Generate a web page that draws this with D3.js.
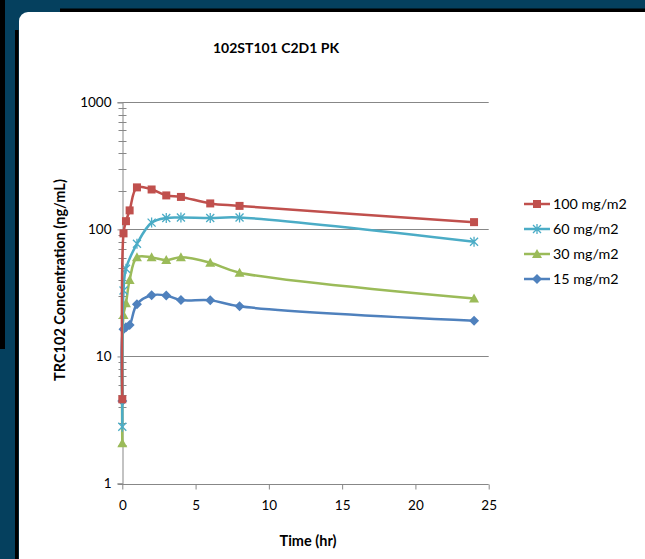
<!DOCTYPE html>
<html>
<head>
<meta charset="utf-8">
<script src="https://cdn.jsdelivr.net/npm/d3@7"></script>
<style>
  html, body { margin: 0; padding: 0; background: #05405e; }
  svg { display: block; font-family: Lato, "Open Sans", sans-serif; }
</style>
</head>
<body>
<div id="chart"></div>
<script>
// sample times (hr)
var times = [0, 0.083, 0.25, 0.5, 1, 2, 3, 4, 6, 8, 24];
var times60 = [0, 0.083, 0.25, 1, 2, 3, 4, 6, 8, 24];

// concentrations (ng/mL)
var dose100 = [4.6, 93, 116, 141, 214, 206, 185, 180, 160, 153, 114];
var dose60 = [2.8, 33, 49, 77, 113, 123, 124, 123, 124, 80];
var dose30 = [2.07, 21.2, 26.2, 39.9, 60.2, 60.2, 57.3, 60.2, 54.6, 45.6, 28.6];
var dose15 = [4.46, 16.4, 17.0, 17.7, 25.8, 30.3, 30.2, 27.8, 27.7, 24.8, 19.1];

var seriesNames = ["100 mg/m2", "60 mg/m2", "30 mg/m2", "15 mg/m2"];
var xTicks = [0, 5, 10, 15, 20, 25];
var yTicks = [1, 10, 100, 1000];

var series = [
  { name: seriesNames[0], t: times, v: dose100, color: "#c0504d", marker: "square" },
  { name: seriesNames[1], t: times60, v: dose60, color: "#4bacc6", marker: "star" },
  { name: seriesNames[2], t: times, v: dose30, color: "#9bbb59", marker: "triangle" },
  { name: seriesNames[3], t: times, v: dose15, color: "#4f81bd", marker: "diamond" }
];

var W = 645, H = 559;
var svg = d3.select("#chart").append("svg")
  .attr("width", W)
  .attr("height", H);

// frame: dark slide background, shadow lines, white rounded card
svg.append("rect").attr("x", 0).attr("y", 0).attr("width", 5).attr("height", 349).attr("fill", "#000");
svg.append("rect").attr("x", 15).attr("y", 30).attr("width", 3.5).attr("height", H).attr("fill", "#000");
svg.append("rect").attr("x", 60).attr("y", 8.5).attr("width", W).attr("height", 3.5).attr("fill", "#000");
svg.append("rect")
  .attr("x", 19).attr("y", 12)
  .attr("width", W + 40).attr("height", H + 40)
  .attr("rx", 9)
  .attr("fill", "#fff");

var x_scale = d3.scaleLinear().domain([0, 25]).range([122.3, 488.7]);
var y_scale = d3.scaleLog().domain([1, 1000]).range([483.5, 102.3]);

var grid = "#878787";

// horizontal gridlines
svg.append("g").selectAll("line")
  .data(yTicks.slice(1))
  .enter().append("line")
  .attr("x1", x_scale(0)).attr("x2", x_scale(25))
  .attr("y1", function(d) { return Math.round(y_scale(d)) + 0.5; })
  .attr("y2", function(d) { return Math.round(y_scale(d)) + 0.5; })
  .attr("stroke", grid).attr("stroke-width", 1);

// y axis
var y_axis = d3.axisLeft(y_scale)
  .tickValues(yTicks)
  .tickFormat(d3.format("d"))
  .tickSize(5)
  .tickPadding(6);
var gy = svg.append("g")
  .attr("transform", "translate(" + (Math.round(x_scale(0)) + 0.5) + ",0)")
  .call(y_axis);
gy.select(".domain").attr("stroke", grid);
gy.selectAll(".tick line").attr("stroke", grid);
gy.selectAll(".tick text").attr("font-size", 13.5).attr("fill", "#000").attr("font-family", "Lato");

// minor ticks crossing the axis
var minors = [];
[1, 10, 100].forEach(function(b) {
  for (var k = 2; k <= 9; k++) minors.push(b * k);
});
svg.append("g").selectAll("line")
  .data(minors)
  .enter().append("line")
  .attr("x1", Math.round(x_scale(0)) - 3.5).attr("x2", Math.round(x_scale(0)) + 4.5)
  .attr("y1", function(d) { return Math.round(y_scale(d)) + 0.5; })
  .attr("y2", function(d) { return Math.round(y_scale(d)) + 0.5; })
  .attr("stroke", grid).attr("stroke-width", 1);

// x axis
var x_axis = d3.axisBottom(x_scale)
  .tickValues(xTicks)
  .tickSize(5)
  .tickPadding(11);
var gx = svg.append("g")
  .attr("transform", "translate(0," + (Math.round(y_scale(1)) + 0.5) + ")")
  .call(x_axis);
gx.select(".domain").attr("stroke", grid).attr("d", "M" + (x_scale(0) - 4) + ",0H" + x_scale(25));
gx.selectAll(".tick line").attr("stroke", grid);
gx.selectAll(".tick text").attr("font-size", 13.5).attr("fill", "#000").attr("font-family", "Lato");

// title and axis titles
svg.append("text")
  .attr("x", 276).attr("y", 53)
  .attr("text-anchor", "middle")
  .attr("font-weight", "bold").attr("font-size", 14)
  .text("102ST101  C2D1 PK");

svg.append("text")
  .attr("x", 308).attr("y", 546)
  .attr("text-anchor", "middle")
  .attr("font-weight", "bold").attr("font-size", 14.5)
  .text("Time (hr)");

svg.append("text")
  .attr("transform", "translate(65,280) rotate(-90)")
  .attr("text-anchor", "middle")
  .attr("font-weight", "bold").attr("font-size", 14.5)
  .text("TRC102 Concentration (ng/mL)");

// markers
function drawMarker(g, type, color) {
  if (type === "square") {
    g.append("rect").attr("x", -4).attr("y", -4).attr("width", 8).attr("height", 8).attr("fill", color);
  } else if (type === "diamond") {
    g.append("path").attr("d", "M0,-5L5,0L0,5L-5,0Z").attr("fill", color);
  } else if (type === "triangle") {
    g.append("path").attr("d", "M0,-5L5,4L-5,4Z").attr("fill", color);
  } else {
    g.append("path").attr("d", "M-4,-4L4,4M-4,4L4,-4M0,-5L0,5")
      .attr("stroke", color).attr("stroke-width", 1.3).attr("fill", "none");
  }
}

var line = d3.line()
  .x(function(d) { return x_scale(d.t); })
  .y(function(d) { return y_scale(d.v); })
  .curve(d3.curveCatmullRom.alpha(0.5));

// draw from bottom series up so red is on top
series.slice().reverse().forEach(function(s) {
  var pts = s.t.map(function(t, i) { return { t: t, v: s.v[i] }; });
  var g = svg.append("g");
  g.append("path")
    .datum(pts)
    .attr("fill", "none")
    .attr("stroke", s.color)
    .attr("stroke-width", 2.5)
    .attr("stroke-linejoin", "round")
    .attr("d", line);
  g.selectAll("g.mk")
    .data(pts)
    .enter().append("g")
    .attr("class", "mk")
    .attr("transform", function(d) { return "translate(" + x_scale(d.t) + "," + y_scale(d.v) + ")"; })
    .each(function() { drawMarker(d3.select(this), s.marker, s.color); });
});

// legend
var legend = svg.append("g");
series.forEach(function(s, i) {
  var ly = 204 + i * 25;
  var lg = legend.append("g").attr("transform", "translate(0," + ly + ")");
  lg.append("line").attr("x1", 524).attr("x2", 550).attr("y1", 0).attr("y2", 0)
    .attr("stroke", s.color).attr("stroke-width", 2.5);
  var m = lg.append("g").attr("transform", "translate(537,0)");
  drawMarker(m, s.marker, s.color);
  lg.append("text").attr("x", 553).attr("y", 5)
    .attr("font-size", 14.3)
    .text(s.name);
});
</script>
</body>
</html>
